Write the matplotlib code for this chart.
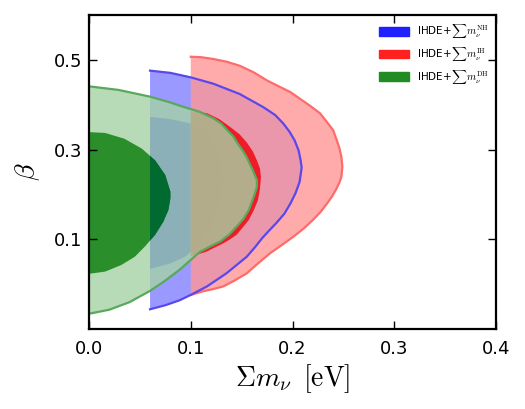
import matplotlib
matplotlib.use("Agg")
import matplotlib.pyplot as plt
from matplotlib.patches import Patch

plt.rcParams['font.family'] = ['DejaVu Sans']
plt.rcParams['mathtext.fontset'] = 'cm'

# contour outlines: (sum m_nu [eV], beta)
nh_2s_x = [0.06, 0.08, 0.10, 0.122, 0.148, 0.171, 0.183, 0.191, 0.197, 0.202, 0.206, 0.208, 0.209,
           0.208, 0.207, 0.203, 0.198, 0.192, 0.184, 0.176, 0.170, 0.163, 0.155, 0.135, 0.116,
           0.10, 0.089, 0.075, 0.06]
nh_2s_y = [0.476, 0.471, 0.461, 0.447, 0.424, 0.395, 0.377, 0.358, 0.340, 0.321, 0.298, 0.276, 0.26,
           0.244, 0.228, 0.203, 0.180, 0.157, 0.136, 0.117, 0.102, 0.082, 0.061, 0.024, -0.005,
           -0.024, -0.036, -0.047, -0.056]
nh_1s_x = [0.06, 0.08, 0.10, 0.113, 0.123, 0.129, 0.131, 0.130, 0.125, 0.117, 0.107, 0.095, 0.08, 0.06]
nh_1s_y = [0.373, 0.368, 0.358, 0.342, 0.315, 0.28, 0.24, 0.20, 0.16, 0.12, 0.085, 0.062, 0.046, 0.034]

ih_2s_x = [0.10, 0.11, 0.122, 0.135, 0.148, 0.162, 0.175, 0.198, 0.217, 0.227, 0.234, 0.240, 0.243,
           0.246, 0.248, 0.249, 0.248, 0.246, 0.243, 0.239, 0.234, 0.228, 0.220, 0.211, 0.201,
           0.190, 0.178, 0.166, 0.155, 0.143, 0.132, 0.122, 0.112, 0.10]
ih_2s_y = [0.507, 0.506, 0.502, 0.496, 0.487, 0.472, 0.454, 0.428, 0.398, 0.381, 0.361, 0.343, 0.324,
           0.304, 0.284, 0.262, 0.239, 0.226, 0.212, 0.196, 0.180, 0.162, 0.143, 0.124, 0.106,
           0.088, 0.069, 0.046, 0.024, 0.008, -0.005, -0.011, -0.016, -0.024]
ih_1s_x = [0.10, 0.116, 0.128, 0.139, 0.148, 0.155, 0.161, 0.165, 0.168, 0.169, 0.168, 0.166, 0.162,
           0.157, 0.151, 0.145, 0.138, 0.132, 0.115, 0.10]
ih_1s_y = [0.386, 0.381, 0.368, 0.350, 0.334, 0.316, 0.296, 0.276, 0.258, 0.239, 0.212, 0.187, 0.165,
           0.143, 0.126, 0.110, 0.099, 0.091, 0.072, 0.062]

dh_2s_x = [0.0, 0.029, 0.06, 0.08, 0.089, 0.109, 0.122, 0.130, 0.136, 0.142, 0.146, 0.151, 0.155,
           0.158, 0.161, 0.163, 0.165, 0.165, 0.163, 0.160, 0.157, 0.152, 0.145, 0.138, 0.129,
           0.119, 0.109, 0.10, 0.089, 0.075, 0.06, 0.04, 0.02, 0.0]
dh_2s_y = [0.441, 0.433, 0.418, 0.405, 0.398, 0.384, 0.370, 0.358, 0.343, 0.329, 0.314, 0.298, 0.283,
           0.268, 0.254, 0.243, 0.232, 0.217, 0.202, 0.183, 0.165, 0.146, 0.128, 0.111, 0.095,
           0.084, 0.072, 0.054, 0.032, 0.008, -0.015, -0.040, -0.057, -0.066]
dh_1s_x = [0.0, 0.016, 0.035, 0.052, 0.065, 0.075, 0.080, 0.080, 0.078, 0.073, 0.065, 0.055, 0.045,
           0.032, 0.016, 0.0]
dh_1s_y = [0.339, 0.337, 0.324, 0.302, 0.276, 0.243, 0.206, 0.191, 0.165, 0.139, 0.110, 0.084, 0.061,
           0.043, 0.028, 0.023]

labels = [r'IHDE+$\sum m_\nu^{\rm NH}$', r'IHDE+$\sum m_\nu^{\rm IH}$', r'IHDE+$\sum m_\nu^{\rm DH}$']
x_ticks = [0.0, 0.1, 0.2, 0.3, 0.4]
y_ticks = [0.1, 0.3, 0.5]

fig = plt.figure(figsize=(5.25, 4.09), dpi=100)
ax = fig.add_axes([0.1695, 0.1956, 0.7753, 0.7677])

# normal hierarchy
nh_outer = ax.fill(nh_2s_x, nh_2s_y, color='#0000ff', alpha=0.4, lw=0)[0]
ax.fill(nh_1s_x, nh_1s_y, color='#0000ff', alpha=0.7, lw=0)

# inverted hierarchy
ax.fill(ih_2s_x, ih_2s_y, color='#ff9696', alpha=0.8, lw=0)
ax.fill(ih_1s_x, ih_1s_y, color='#ee1520', alpha=0.95, lw=0)
ax.plot(ih_2s_x, ih_2s_y, color='#ff6a6a', lw=1.6, solid_joinstyle='round')
ax.plot(nh_2s_x, nh_2s_y, color='#5a48ec', lw=1.6, solid_joinstyle='round')

# degenerate hierarchy
ax.fill(dh_2s_x, dh_2s_y, color='#a5d2a5', alpha=0.8, lw=0)
ax.fill(dh_1s_x, dh_1s_y, color='#228b22', alpha=0.95, lw=0)
# darker where the NH band lies underneath
dark = ax.fill(dh_1s_x, dh_1s_y, color='#006a30', lw=0)[0]
dark.set_clip_path(nh_outer)
ax.plot(dh_2s_x, dh_2s_y, color='#5aa85a', lw=1.6, solid_joinstyle='round')

ax.set_xlim(0, 0.4)
ax.set_ylim(-0.1, 0.6)
ax.set_xticks(x_ticks)
ax.set_yticks(y_ticks)
ax.tick_params(direction='in', top=True, right=True, length=6, width=1, labelsize=13)
ax.tick_params(axis='x', pad=8)
ax.tick_params(axis='y', pad=5)
for s in ax.spines.values():
    s.set_linewidth(1.6)

ax.set_xlabel(r'$\Sigma m_\nu\ \, [\rm eV]$', fontsize=20, labelpad=3)
ax.set_ylabel(r'$\beta$', fontsize=20, labelpad=8)

handles = [Patch(color='#2020ff'), Patch(color='#ff2020'), Patch(color='#228b22')]
ax.legend(handles, labels, loc='upper right', fontsize=7.5, frameon=False,
          handlelength=2.8, handleheight=0.9, labelspacing=0.45, borderaxespad=0.3)

fig.savefig('out.png', dpi=100)
